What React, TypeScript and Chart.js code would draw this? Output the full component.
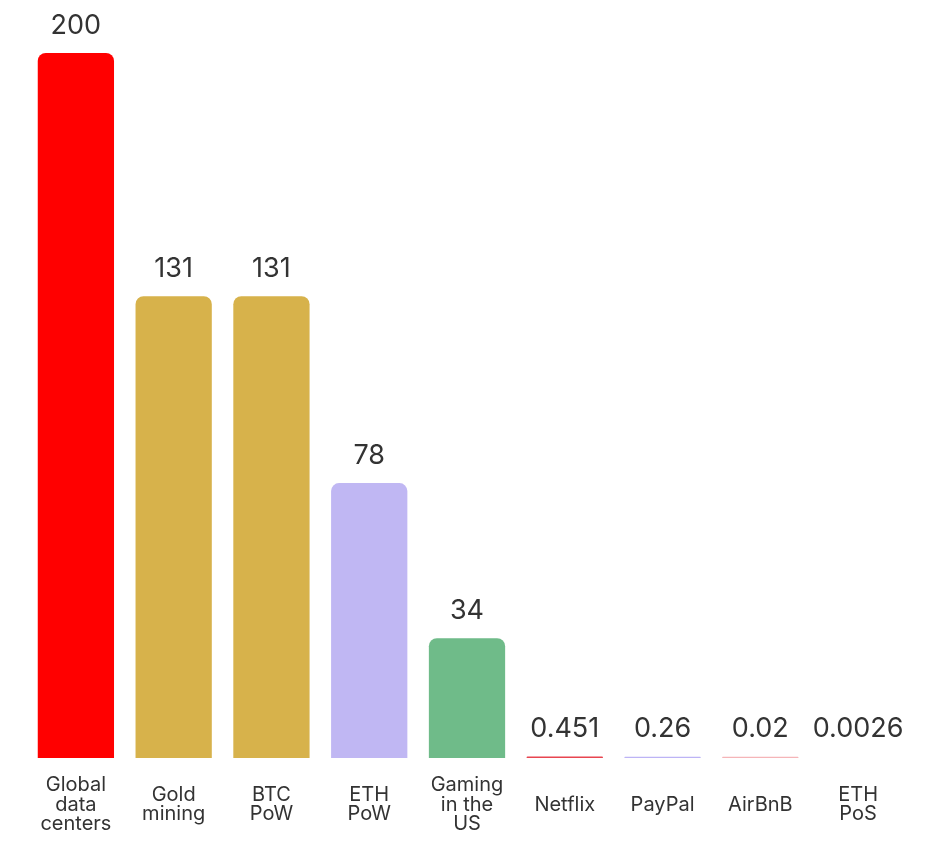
import React, { useEffect, useRef } from "react";
import { Chart, registerables } from "chart.js";

Chart.register(...registerables);

const categories: (string | string[])[] = [
  ["Global", "data", "centers"],
  ["Gold", "mining"],
  ["BTC", "PoW"],
  ["ETH", "PoW"],
  ["Gaming", "in the", "US"],
  "Netflix",
  "PayPal",
  "AirBnB",
  ["ETH", "PoS"],
];

const values = [200, 131, 131, 78, 34, 0.451, 0.26, 0.02, 0.0026];
const valueLabels = ["200", "131", "131", "78", "34", "0.451", "0.26", "0.02", "0.0026"];

const barColors = [
  "#FF0000",
  "#D7B24B",
  "#D7B24B",
  "#C0B7F3",
  "#6FBB89",
  "#E84550",
  "#BDB4F5",
  "#F5B5B8",
  "rgba(255,255,255,0)",
];

const TEXT_COLOR = "#333333";
const FONT = "Inter, 'Noto Sans', sans-serif";

const valueLabelPlugin = {
  id: "valueLabels",
  afterDatasetsDraw(chart: any) {
    const { ctx } = chart;
    const meta = chart.getDatasetMeta(0);
    ctx.save();
    ctx.font = `27px ${FONT}`;
    ctx.fillStyle = TEXT_COLOR;
    ctx.textAlign = "center";
    ctx.textBaseline = "bottom";
    meta.data.forEach((bar: any, i: number) => {
      ctx.fillText(valueLabels[i], bar.x, bar.y - 14);
    });
    ctx.restore();
  },
};

export default function App() {
  const canvasRef = useRef<HTMLCanvasElement | null>(null);

  useEffect(() => {
    if (!canvasRef.current) return;
    const chart = new Chart(canvasRef.current, {
      type: "bar",
      data: {
        labels: categories,
        datasets: [
          {
            data: values,
            backgroundColor: barColors,
            borderRadius: 8,
            borderSkipped: "start",
            categoryPercentage: 1,
            barPercentage: 0.78,
            minBarLength: 1.2,
          },
        ],
      },
      options: {
        animation: false,
        responsive: true,
        maintainAspectRatio: false,
        layout: { padding: { top: 45, left: 19, right: 11, bottom: 0 } },
        plugins: {
          legend: { display: false },
          tooltip: { enabled: false },
        },
        scales: {
          x: {
            grid: { display: false, drawTicks: false },
            border: { display: false },
            afterFit: (scale: any) => {
              scale.height = 90;
            },
            ticks: {
              color: TEXT_COLOR,
              font: { family: FONT, size: 20, lineHeight: 0.975 },
              padding: 27,
              maxRotation: 0,
              minRotation: 0,
              autoSkip: false,
              crossAlign: "center",
            },
          },
          y: {
            display: false,
            min: 0,
            max: 200,
          },
        },
      },
      plugins: [valueLabelPlugin],
    });
    return () => chart.destroy();
  }, []);

  return (
    <div style={{ width: 910, height: 840, position: "relative" }}>
      <canvas ref={canvasRef} />
    </div>
  );
}
